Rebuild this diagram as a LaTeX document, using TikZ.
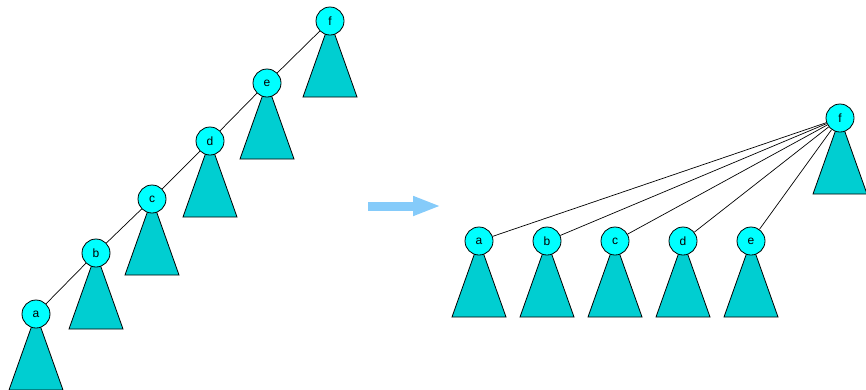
\documentclass[tikz,border=0pt]{standalone}
\usepackage{fontspec}
\setmainfont{Liberation Sans}
\usetikzlibrary{arrows.meta,backgrounds}
\definecolor{knot}{HTML}{00FFFF}
\definecolor{subt}{HTML}{00CED1}
\definecolor{arrc}{HTML}{85CBFA}

\begin{document}
\begin{tikzpicture}[x=1pt, y=-1pt,
    nd/.style={draw=black, line width=0.8pt, circle, minimum size=28pt, inner sep=0pt, fill=knot, font=\fontsize{12}{14}\selectfont},
    tri/.style={draw=black, line width=0.8pt, fill=subt, line join=miter},
    ed/.style={draw=black, line width=0.7pt}]
  \useasboundingbox (0,0) rectangle (866,389);

  % ── left: a chain f-e-d-c-b-a, each node with its subtree ──
  \node[nd] (lf) at (330,21)  {f};
  \node[nd] (le) at (267,83)  {e};
  \node[nd] (ld) at (210,141) {d};
  \node[nd] (lc) at (152,199) {c};
  \node[nd] (lb) at (96,253)  {b};
  \node[nd] (la) at (36,314)  {a};
  \draw[ed] (lf)--(le); \draw[ed] (le)--(ld); \draw[ed] (ld)--(lc);
  \draw[ed] (lc)--(lb); \draw[ed] (lb)--(la);

  % ── arrow ──
  \coordinate (ar1) at (368,206);
  \coordinate (ar2) at (441,206);
  \draw[arrc, line width=9pt, -{Triangle[length=28pt,width=18pt]}] (ar1) -- (ar2);

  % ── right: f with a..e as direct children ──
  \node[nd] (rf) at (840,118) {f};
  \node[nd] (ra) at (479,241) {a};
  \node[nd] (rb) at (547,241) {b};
  \node[nd] (rc) at (615,241) {c};
  \node[nd] (rd) at (683,241) {d};
  \node[nd] (re) at (751,241) {e};
  \draw[ed] (rf)--(ra); \draw[ed] (rf)--(rb); \draw[ed] (rf)--(rc);
  \draw[ed] (rf)--(rd); \draw[ed] (rf)--(re);

  % ── subtrees behind the nodes ──
  \begin{scope}[on background layer]
    \draw[tri] (lf.center) -- ++(-27,76) -- ++(54,0) -- cycle;
    \draw[tri] (le.center) -- ++(-27,76) -- ++(54,0) -- cycle;
    \draw[tri] (ld.center) -- ++(-27,76) -- ++(54,0) -- cycle;
    \draw[tri] (lc.center) -- ++(-27,76) -- ++(54,0) -- cycle;
    \draw[tri] (lb.center) -- ++(-27,76) -- ++(54,0) -- cycle;
    \draw[tri] (la.center) -- ++(-27,76) -- ++(54,0) -- cycle;
    \draw[tri] (rf.center) -- ++(-27,76) -- ++(54,0) -- cycle;
    \draw[tri] (ra.center) -- ++(-27,76) -- ++(54,0) -- cycle;
    \draw[tri] (rb.center) -- ++(-27,76) -- ++(54,0) -- cycle;
    \draw[tri] (rc.center) -- ++(-27,76) -- ++(54,0) -- cycle;
    \draw[tri] (rd.center) -- ++(-27,76) -- ++(54,0) -- cycle;
    \draw[tri] (re.center) -- ++(-27,76) -- ++(54,0) -- cycle;
  \end{scope}
\end{tikzpicture}
\end{document}
